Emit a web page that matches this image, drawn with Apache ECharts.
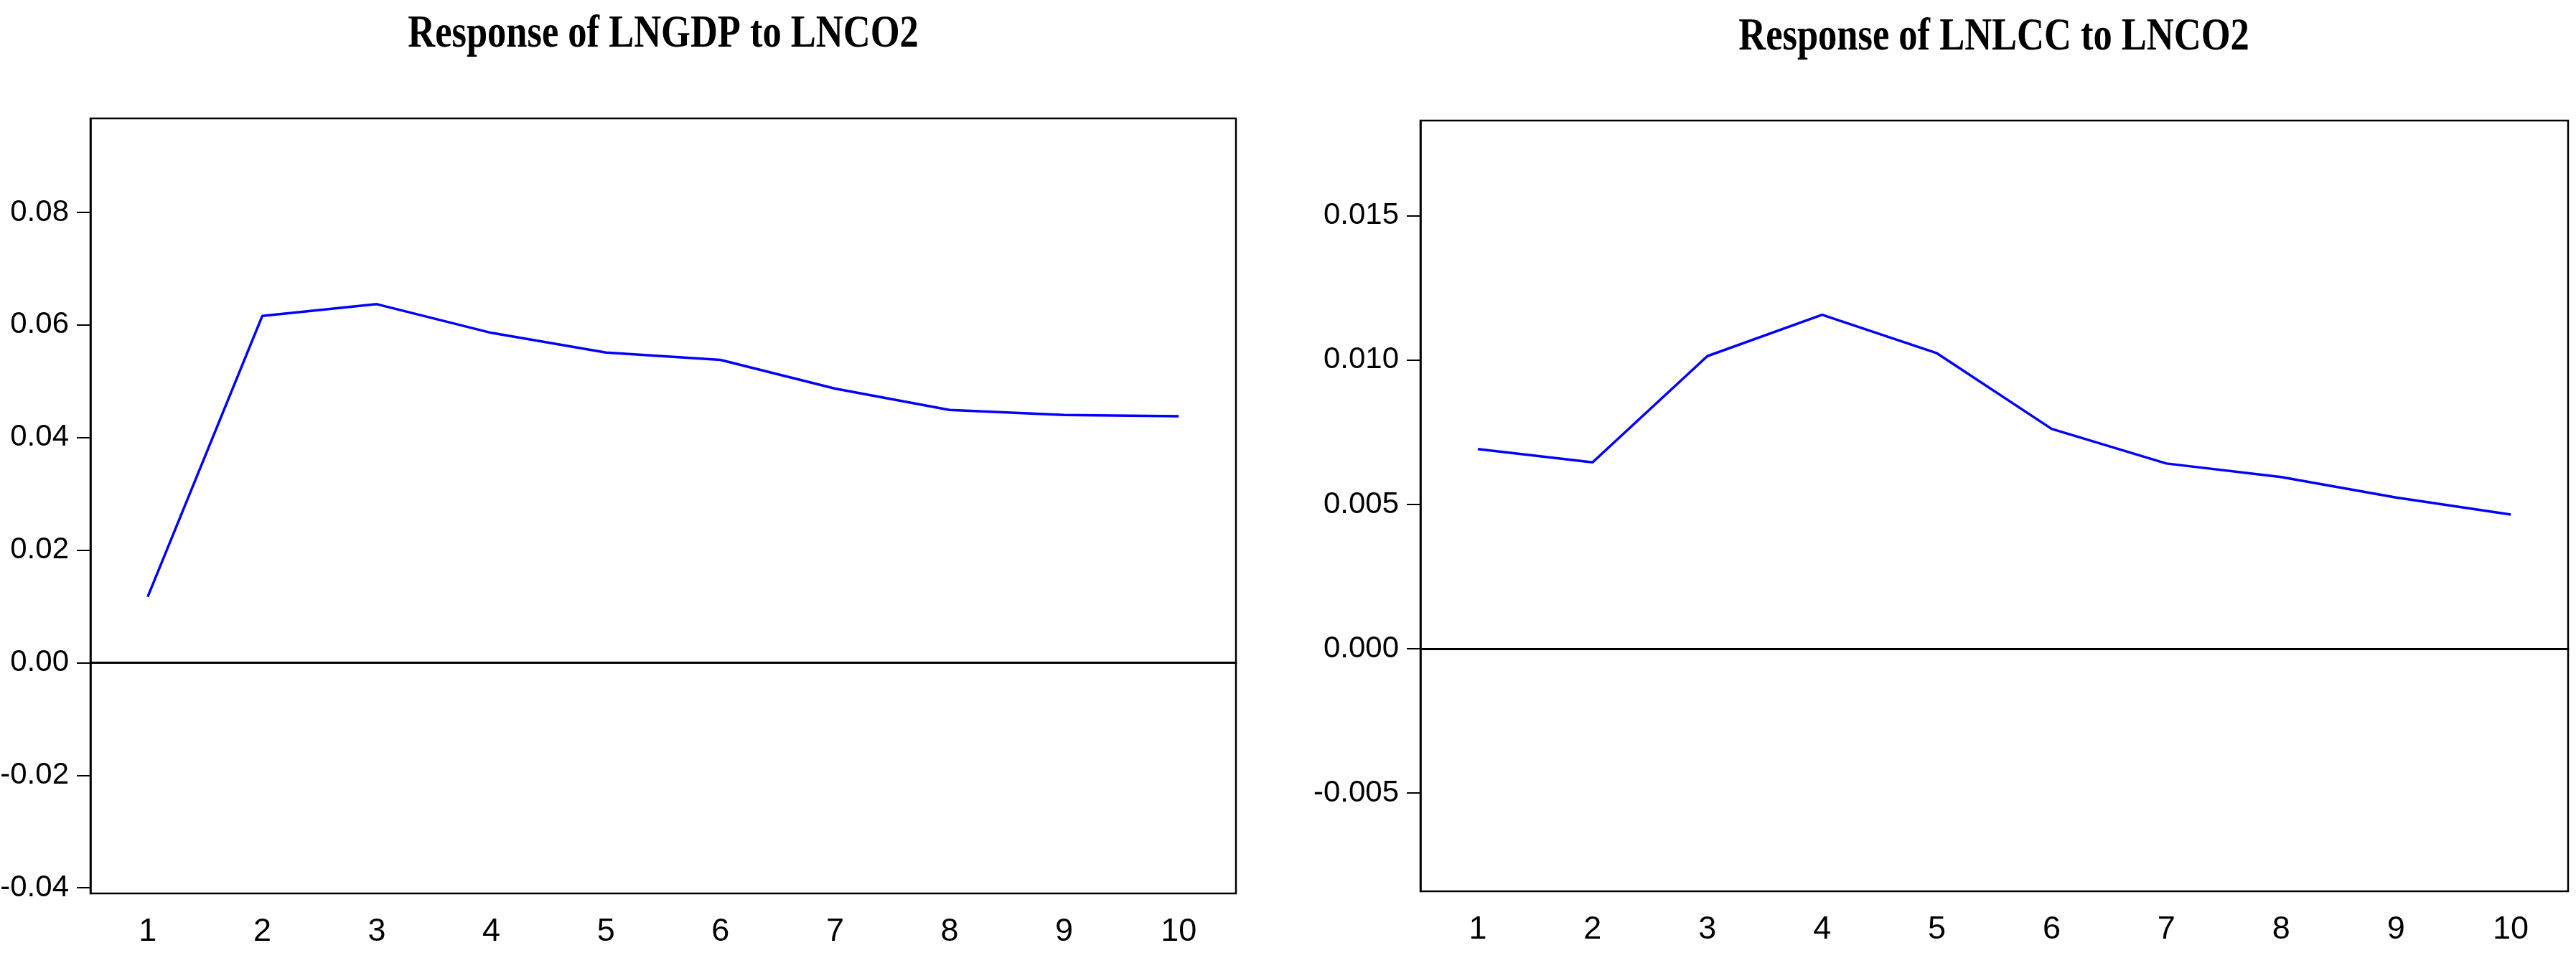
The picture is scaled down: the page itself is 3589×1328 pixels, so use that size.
<!DOCTYPE html>
<html>
<head>
<meta charset="utf-8">
<script src="https://cdn.jsdelivr.net/npm/echarts@6/dist/echarts.min.js"></script>
<style>
    html, body { margin: 0; padding: 0; background: #fff; }
    #irf-chart { width: 3589px; height: 1328px; }
</style>
</head>
<body>
<div id="irf-chart"></div>
<script>
    /* Data. */
    var periods = ['1', '2', '3', '4', '5', '6', '7', '8', '9', '10'];
    var lngdp_response = [0.0117, 0.0616, 0.0637, 0.0586, 0.0551, 0.0538, 0.0487, 0.0449, 0.0440, 0.0438];
    var lnlcc_response = [0.00692, 0.00646, 0.01014, 0.01157, 0.01024, 0.00762, 0.00642, 0.00595, 0.00524, 0.00465];
    var lngdp_ticks = [-0.04, -0.02, 0.00, 0.02, 0.04, 0.06, 0.08];
    var lnlcc_ticks = [-0.005, 0.000, 0.005, 0.010, 0.015];
    var titles = ['Response of LNGDP to LNCO2', 'Response of LNLCC to LNCO2'];

    var irf_chart = echarts.init(document.getElementById('irf-chart'));

    var font_family = '"Liberation Sans", Arial, sans-serif';

    function make_x_axis(grid_index) {
        return {
            type: 'category',
            gridIndex: grid_index,
            data: periods,
            boundaryGap: true,
            axisLine: { lineStyle: { color: '#000', width: 3 } },
            axisTick: { length: 23, lineStyle: { color: '#000', width: 2 } },
            axisLabel: {
                interval: 0,
                margin: 31,
                fontFamily: font_family,
                fontSize: 45,
                color: '#000'
            },
            splitLine: { show: false }
        };
    }

    function make_y_axis(grid_index, min, max, ticks, digits) {
        return {
            type: 'value',
            gridIndex: grid_index,
            min: min,
            max: max,
            axisLine: { show: true, lineStyle: { color: '#000', width: 2.5 } },
            axisTick: {
                show: true,
                length: 19,
                customValues: ticks,
                lineStyle: { color: '#000', width: 2 }
            },
            axisLabel: {
                margin: 30,
                customValues: ticks,
                padding: [0, 0, 22, 0],
                fontFamily: font_family,
                fontSize: 42,
                color: '#000',
                formatter: function (v) { return v.toFixed(digits); }
            },
            splitLine: { show: false }
        };
    }

    function make_series(index, data) {
        return {
            type: 'line',
            xAxisIndex: index,
            yAxisIndex: index,
            data: data,
            symbol: 'none',
            lineStyle: { color: '#0000ff', width: 3.5 },
            markLine: {
                silent: true,
                symbol: ['none', 'none'],
                label: { show: false },
                lineStyle: { color: '#000', width: 1, type: 'solid' },
                data: [{ yAxis: 0 }]
            }
        };
    }

    /* Titles: condensed bold serif, like the EViews export. */
    function make_title(text, x, y) {
        return {
            type: 'text',
            x: x,
            y: y,
            scaleX: 0.82,
            silent: true,
            style: {
                text: text,
                align: 'center',
                verticalAlign: 'middle',
                fontFamily: '"Liberation Serif", "Times New Roman", serif',
                fontWeight: 'bold',
                fontSize: 64,
                fill: '#000'
            }
        };
    }

    var option = {
        backgroundColor: '#fff',
        animation: false,
        graphic: [
            make_title(titles[0], 924, 48),
            make_title(titles[1], 2778, 52)
        ],
        grid: [
            { left: 126, top: 165, width: 1596, height: 1080, outerBoundsMode: 'none', containLabel: false, show: true, borderColor: '#000', borderWidth: 2.5 },
            { left: 1979, top: 168, width: 1599, height: 1074, outerBoundsMode: 'none', containLabel: false, show: true, borderColor: '#000', borderWidth: 2.5 }
        ],
        xAxis: [make_x_axis(0), make_x_axis(1)],
        yAxis: [
            make_y_axis(0, -0.041, 0.0967, lngdp_ticks, 2),
            make_y_axis(1, -0.0084, 0.0183, lnlcc_ticks, 3)
        ],
        series: [
            make_series(0, lngdp_response),
            make_series(1, lnlcc_response)
        ]
    };
    irf_chart.setOption(option);
</script>
</body>
</html>
